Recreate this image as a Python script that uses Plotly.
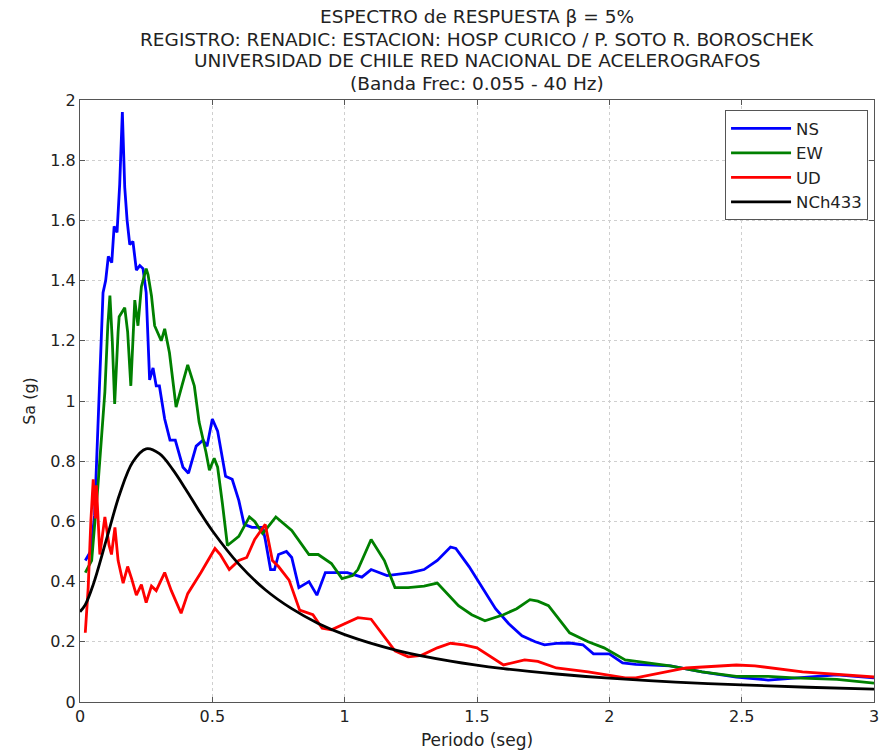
import plotly.graph_objects as go

# ---- Data ----
ns_t = [0.02, 0.04, 0.055, 0.065, 0.075, 0.087, 0.097, 0.107, 0.12, 0.129, 0.14, 0.15, 0.16, 0.169,
        0.178, 0.188, 0.2, 0.213, 0.226, 0.238, 0.25, 0.263, 0.276, 0.288, 0.3, 0.32, 0.34, 0.36,
        0.389, 0.41, 0.439, 0.465, 0.48, 0.5, 0.52, 0.55, 0.575, 0.6, 0.62, 0.65, 0.69, 0.70,
        0.72, 0.735, 0.75, 0.78, 0.80, 0.827, 0.865, 0.895, 0.927, 0.977, 1.01, 1.065, 1.10,
        1.16, 1.25, 1.30, 1.35, 1.40, 1.42, 1.47, 1.52, 1.57, 1.62, 1.67, 1.72, 1.755, 1.80,
        1.85, 1.90, 1.94, 2.0, 2.05, 2.1, 2.23, 2.35, 2.48, 2.6, 2.7, 2.8, 2.86, 2.93, 3.0]
ns_sa = [0.47, 0.50, 0.62, 0.85, 1.10, 1.36, 1.40, 1.48, 1.46, 1.58, 1.56, 1.72, 1.96, 1.71,
         1.60, 1.52, 1.53, 1.435, 1.45, 1.44, 1.36, 1.07, 1.11, 1.05, 1.05, 0.94, 0.87, 0.87,
         0.78, 0.76, 0.85, 0.87, 0.85, 0.94, 0.90, 0.75, 0.74, 0.67, 0.59, 0.58, 0.58, 0.54,
         0.44, 0.44, 0.49, 0.50, 0.48, 0.38, 0.40, 0.355, 0.43, 0.43, 0.43, 0.415, 0.44,
         0.42, 0.43, 0.44, 0.47, 0.515, 0.51, 0.45, 0.38, 0.31, 0.26, 0.22, 0.20, 0.19, 0.195,
         0.196, 0.19, 0.16, 0.16, 0.13, 0.125, 0.12, 0.10, 0.083, 0.073, 0.08, 0.088, 0.09, 0.085, 0.08]

ew_t = [0.02, 0.044, 0.067, 0.082, 0.094, 0.105, 0.113, 0.122, 0.131, 0.144, 0.148, 0.169,
        0.18, 0.192, 0.207, 0.219, 0.232, 0.25, 0.257, 0.27, 0.282, 0.307, 0.32, 0.338, 0.363,
        0.385, 0.407, 0.432, 0.45, 0.476, 0.489, 0.507, 0.52, 0.538, 0.557, 0.60, 0.64, 0.66,
        0.69, 0.70, 0.74, 0.80, 0.865, 0.90, 0.95, 0.99, 1.03, 1.05, 1.10, 1.15, 1.19, 1.24,
        1.30, 1.35, 1.43, 1.48, 1.53, 1.60, 1.65, 1.70, 1.73, 1.77, 1.85, 1.92, 1.98, 2.06,
        2.15, 2.23, 2.35, 2.48, 2.6, 2.7, 2.86, 3.0]
ew_sa = [0.43, 0.47, 0.71, 0.90, 1.03, 1.25, 1.35, 1.20, 0.99, 1.23, 1.28, 1.31,
         1.23, 1.05, 1.335, 1.25, 1.38, 1.44, 1.42, 1.35, 1.25, 1.20, 1.24, 1.16, 0.98,
         1.05, 1.12, 1.05, 0.93, 0.83, 0.77, 0.81, 0.78, 0.66, 0.52, 0.55, 0.615, 0.60,
         0.56, 0.57, 0.615, 0.57, 0.49, 0.49, 0.46, 0.41, 0.42, 0.44, 0.54, 0.47, 0.38, 0.38,
         0.385, 0.395, 0.32, 0.29, 0.27, 0.29, 0.31, 0.34, 0.335, 0.32, 0.23, 0.20, 0.18, 0.14,
         0.13, 0.12, 0.10, 0.085, 0.085, 0.08, 0.075, 0.063]

ud_t = [0.02, 0.031, 0.041, 0.05, 0.058, 0.062, 0.075, 0.094, 0.11, 0.119, 0.132, 0.144,
        0.163, 0.18, 0.195, 0.213, 0.232, 0.25, 0.27, 0.288, 0.32, 0.345, 0.382, 0.407,
        0.457, 0.51, 0.53, 0.564, 0.60, 0.63, 0.66, 0.70, 0.727, 0.75, 0.79, 0.83, 0.88,
        0.915, 0.95, 1.0, 1.05, 1.10, 1.19, 1.24, 1.29, 1.35, 1.40, 1.45, 1.5, 1.6, 1.68,
        1.73, 1.80, 1.92, 2.06, 2.1, 2.29, 2.48, 2.55, 2.73, 3.0]
ud_sa = [0.23, 0.38, 0.60, 0.74, 0.61, 0.72, 0.49, 0.615, 0.52, 0.49, 0.58, 0.47,
         0.395, 0.45, 0.41, 0.355, 0.39, 0.33, 0.385, 0.37, 0.43, 0.37, 0.295, 0.36,
         0.43, 0.51, 0.49, 0.44, 0.47, 0.48, 0.54, 0.59, 0.47, 0.45, 0.405, 0.305, 0.29,
         0.245, 0.24, 0.26, 0.28, 0.275, 0.17, 0.15, 0.155, 0.18, 0.195, 0.19, 0.18, 0.123, 0.14,
         0.135, 0.113, 0.10, 0.08, 0.08, 0.113, 0.123, 0.12, 0.10, 0.083]

nch_t = [0.0, 0.02, 0.05, 0.1, 0.15, 0.2, 0.25, 0.3, 0.35, 0.4, 0.45, 0.5, 0.6, 0.7, 0.8,
         0.9, 1.0, 1.2, 1.4, 1.6, 1.8, 2.0, 2.25, 2.5, 2.75, 3.0]
nch_sa = [0.300, 0.323, 0.390, 0.540, 0.691, 0.798, 0.841, 0.825, 0.773, 0.706, 0.635, 0.569,
          0.458, 0.373, 0.310, 0.261, 0.224, 0.171, 0.136, 0.111, 0.093, 0.079, 0.066, 0.057,
          0.049, 0.043]

series_names = ["NS", "EW", "UD", "NCh433"]
series_t = [ns_t, ew_t, ud_t, nch_t]
series_sa = [ns_sa, ew_sa, ud_sa, nch_sa]
series_colors = ["#0000ff", "#008000", "#ff0000", "#000000"]
series_shapes = ["linear", "linear", "linear", "spline"]

title_lines = [
    "ESPECTRO de RESPUESTA β = 5%",
    "REGISTRO: RENADIC: ESTACION: HOSP CURICO / P. SOTO R. BOROSCHEK",
    "UNIVERSIDAD DE CHILE RED NACIONAL DE ACELEROGRAFOS",
    "(Banda Frec: 0.055 - 40 Hz)",
]

x_ticks = [0, 0.5, 1, 1.5, 2, 2.5, 3]
x_ticklabels = ["0", "0.5", "1", "1.5", "2", "2.5", "3"]
y_ticks = [0, 0.2, 0.4, 0.6, 0.8, 1.0, 1.2, 1.4, 1.6, 1.8, 2.0]
y_ticklabels = ["0", "0.2", "0.4", "0.6", "0.8", "1", "1.2", "1.4", "1.6", "1.8", "2"]

FONT = "DejaVu Sans, Arial, sans-serif"
TXT = "#222222"

fig = go.Figure()
for name, t, sa, color, shape in zip(series_names, series_t, series_sa, series_colors, series_shapes):
    fig.add_trace(go.Scatter(x=t, y=sa, mode="lines", name=name,
                             line=dict(color=color, width=2.8, shape=shape)))

# title lines as separate centred annotations above the plot area
title_y = [1.1395, 1.0997, 1.0648, 1.0266]
for line, yy in zip(title_lines, title_y):
    fig.add_annotation(text=line, xref="paper", yref="paper", x=0.5, y=yy,
                       xanchor="center", yanchor="middle", showarrow=False,
                       font=dict(family=FONT, size=18.5, color=TXT))

fig.update_layout(
    width=885, height=756,
    margin=dict(l=80, r=6, t=100, b=54),
    paper_bgcolor="white", plot_bgcolor="white",
    font=dict(family=FONT, size=15, color=TXT),
    showlegend=True,
    legend=dict(x=0.9925, y=0.983, xanchor="right", yanchor="top",
                bgcolor="white", bordercolor="#555555", borderwidth=1,
                font=dict(family=FONT, size=16.5, color=TXT),
                tracegroupgap=0, itemwidth=60),
    xaxis=dict(range=[0, 3], tickvals=x_ticks, ticktext=x_ticklabels,
               showgrid=True, gridcolor="#cfcfcf", griddash="dot", gridwidth=1,
               zeroline=False, showline=True, linecolor="#555555", linewidth=1, mirror="ticks",
               ticks="inside", ticklen=5, tickcolor="#555555",
               tickfont=dict(family=FONT, size=16, color=TXT),
               title=dict(text="Periodo (seg)", standoff=8, font=dict(family=FONT, size=17))),
    yaxis=dict(range=[0, 2], tickvals=y_ticks, ticktext=y_ticklabels,
               showgrid=True, gridcolor="#cfcfcf", griddash="dot", gridwidth=1,
               zeroline=False, showline=True, linecolor="#555555", linewidth=1, mirror="ticks",
               ticks="inside", ticklen=5, tickcolor="#555555",
               tickfont=dict(family=FONT, size=16, color=TXT),
               title=dict(text="Sa (g)", standoff=10, font=dict(family=FONT, size=16))),
)

fig.write_html("out.html")
